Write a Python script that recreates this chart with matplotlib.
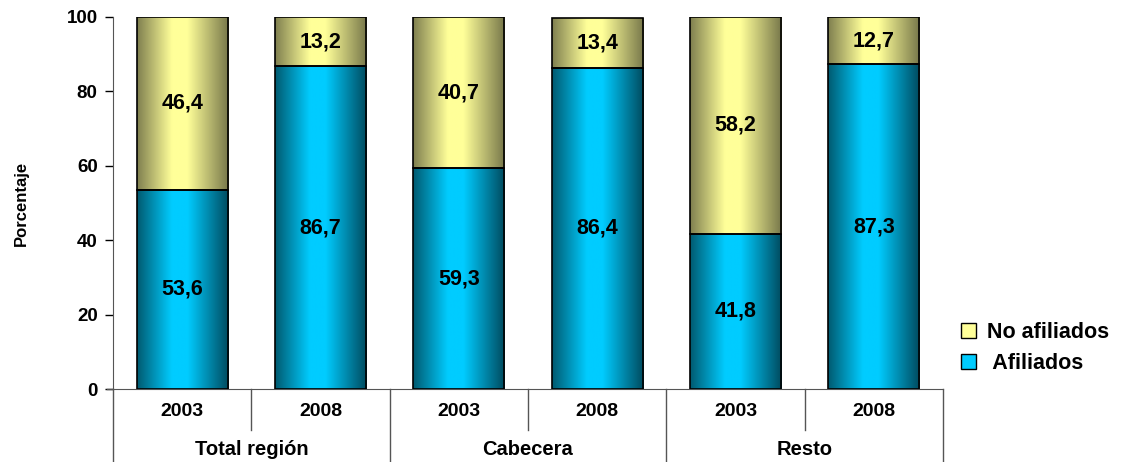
import numpy as np
import matplotlib.pyplot as plt
from matplotlib.colors import LinearSegmentedColormap
from matplotlib.patches import Patch
from matplotlib.transforms import blended_transform_factory

plt.rcParams['font.family'] = ['Liberation Sans', 'DejaVu Sans']
plt.rcParams['font.weight'] = 'bold'

# Data
groups = ["Total región", "Cabecera", "Resto"]
years = ["2003", "2008", "2003", "2008", "2003", "2008"]
afiliados = [53.6, 86.7, 59.3, 86.4, 41.8, 87.3]
no_afiliados = [46.4, 13.2, 40.7, 13.4, 58.2, 12.7]

blue_cmap = LinearSegmentedColormap.from_list(
    "blue", [(0, "#005a70"), (0.38, "#00ccff"), (0.55, "#00ccff"), (1, "#004a5e")])
yellow_cmap = LinearSegmentedColormap.from_list(
    "yellow", [(0, "#7f7f4f"), (0.38, "#ffff99"), (0.55, "#ffff99"), (1, "#77774a")])

fig = plt.figure(figsize=(11.24, 4.62), dpi=100)
ax = fig.add_axes([113 / 1124, 73 / 462, 830 / 1124, 372 / 462])

x = np.arange(len(years))
width = 0.66
grad = np.linspace(0, 1, 256).reshape(1, -1)


def gradient_bars(bottoms, heights, cmap):
    bars = ax.bar(x, heights, width, bottom=bottoms, facecolor="none",
                  edgecolor="black", linewidth=1.2, zorder=3)
    for b in bars:
        im = ax.imshow(grad, cmap=cmap, aspect="auto", zorder=2,
                       extent=[b.get_x(), b.get_x() + b.get_width(),
                               b.get_y(), b.get_y() + b.get_height()])
        im.set_clip_path(b)
    return bars


gradient_bars(np.zeros(len(x)), afiliados, blue_cmap)
gradient_bars(afiliados, no_afiliados, yellow_cmap)

for xi, a, n in zip(x, afiliados, no_afiliados):
    ax.text(xi, a / 2, f"{a:.1f}".replace(".", ","), ha="center", va="center",
            fontsize=15.5, fontweight="bold", zorder=4)
    ax.text(xi, a + n / 2, f"{n:.1f}".replace(".", ","), ha="center", va="center",
            fontsize=15.5, fontweight="bold", zorder=4)

ax.set_xlim(-0.5, 5.5)
ax.set_ylim(0, 100)
ax.set_yticks([0, 20, 40, 60, 80, 100])
ax.tick_params(axis="y", direction="out", length=6, width=1, labelsize=13.5, pad=5)
ax.set_xticks([])
for s in ["top", "right"]:
    ax.spines[s].set_visible(False)
ax.spines["left"].set_color("#555555")
ax.spines["bottom"].set_color("#555555")
ax.set_ylabel("Porcentaje", fontsize=12, fontweight="bold", labelpad=27)

# hierarchical x axis
tr = blended_transform_factory(ax.transData, ax.transAxes)
ax.plot([-0.54, -0.5], [0, 0], color="#555555", lw=1, transform=tr, clip_on=False)
for xi, y in zip(x, years):
    ax.text(xi, -0.06, y, transform=tr, ha="center", va="center", fontsize=14,
            fontweight="bold")
for sep in [0.5, 2.5, 4.5]:
    ax.plot([sep, sep], [0, -0.11], color="#555555", lw=1, transform=tr, clip_on=False)
for sep in [-0.5, 1.5, 3.5, 5.5]:
    ax.plot([sep, sep], [0, -0.2], color="#555555", lw=1, transform=tr, clip_on=False)
for gi, g in enumerate(groups):
    ax.text(2 * gi + 0.5, -0.162, g, transform=tr, ha="center", va="center",
            fontsize=14.5, fontweight="bold")

handles = [Patch(facecolor="#ffff99", edgecolor="black", label="No afiliados"),
           Patch(facecolor="#00ccff", edgecolor="black", label=" Afiliados")]
fig.legend(handles=handles, loc="center left", bbox_to_anchor=(942 / 1124, 1 - 348 / 462),
           frameon=False, handlelength=0.7, handleheight=0.7,
           handletextpad=0.5, labelspacing=0.5, prop={"weight": "bold", "size": 15.5})

fig.savefig("out.png", dpi=100)
